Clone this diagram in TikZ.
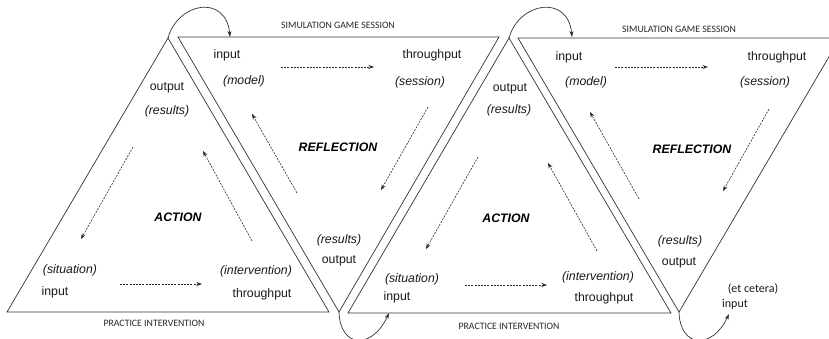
\documentclass[tikz,border=0pt]{standalone}
\usepackage{fontspec}
\setmainfont{Liberation Sans}
\newfontfamily\calfont{Carlito}
\usetikzlibrary{arrows.meta}
\begin{document}
\begin{tikzpicture}[x=1pt,y=-1pt,
  tri/.style={draw=black!80, line width=0.7pt, line join=miter},
  lbl/.style={inner sep=0pt, text=black!90, font=\fontsize{12.3}{14}\selectfont},
  ital/.style={inner sep=0pt, text=black!90, font=\fontsize{12.3}{14}\selectfont\itshape},
  heading/.style={inner sep=0pt, text=black, font=\fontsize{12.3}{14}\selectfont\bfseries\itshape},
  smallcap/.style={inner sep=0pt, text=black!85, font=\calfont\fontsize{9.8}{12}\selectfont},
  callbl/.style={inner sep=0pt, text=black!90, font=\calfont\fontsize{12}{14}\selectfont},
  flowarrow/.style={draw=black!85, line width=0.6pt, dash pattern=on 2pt off 1.2pt, -{Stealth[length=5.5pt,width=4pt]}},
  hop/.style={draw=black!80, line width=0.7pt, -{Stealth[length=6pt,width=4pt]}}
]
\useasboundingbox (0,0) rectangle (829,339);
\clip (0,0) rectangle (829,339);

% ---------- triangle corners ----------
\coordinate (a1) at (168,38);  \coordinate (b1l) at (7,312);   \coordinate (b1r) at (329,312);
\coordinate (t2l) at (178,37); \coordinate (t2r) at (499,37);  \coordinate (v2) at (339,312);
\coordinate (a3) at (509,38);  \coordinate (b3l) at (348,313); \coordinate (b3r) at (671,313);
\coordinate (t4l) at (518,38); \coordinate (t4r) at (840,38);  \coordinate (v4) at (679,312);

\draw[tri] (a1) -- (b1r) -- (b1l) -- cycle;
\draw[tri] (t2l) -- (t2r) -- (v2) -- cycle;
\draw[tri] (a3) -- (b3r) -- (b3l) -- cycle;
\draw[tri] (t4l) -- (t4r) -- (v4) -- cycle;

% ---------- linking curves ----------
\coordinate (e1) at (230,37);
\coordinate (e2) at (389,313);
\coordinate (e3) at (572,37);
\coordinate (e4) at (729,314);
\draw[hop] (a1) .. controls (178,2) and (226,-6) .. (e1);
\draw[hop] (v2) .. controls (340,348) and (372,350) .. (e2);
\draw[hop] (a3) .. controls (519,2) and (568,-6) .. (e3);
\draw[hop] (v4) .. controls (680,348) and (712,350) .. (e4);

% ---------- triangle 1 : ACTION ----------
\node[lbl]  (o1)  at (167,88)  {output};
\node[ital] (r1)  at (167,111) {(results)};
\node[heading] (act1) at (178,217) {ACTION};
\node[ital] (s1)  at (70,270)  {(situation)};
\node[lbl]  (i1)  at (55,292)  {input};
\node[ital] (iv1) at (256,271) {(intervention)};
\node[lbl]  (th1) at (262,294) {throughput};
\node[smallcap] (p1) at (154,323) {PRACTICE INTERVENTION};
\coordinate (f1a) at (133,147); \coordinate (f1b) at (81,239);
\coordinate (f1c) at (252,241); \coordinate (f1d) at (203,151);
\coordinate (f1e) at (120,284); \coordinate (f1f) at (202,284);
\draw[flowarrow] (f1a) -- (f1b);
\draw[flowarrow] (f1c) -- (f1d);
\draw[flowarrow] (f1e) -- (f1f);

% ---------- triangle 2 : REFLECTION ----------
\node[smallcap] (g2) at (338,25) {SIMULATION GAME SESSION};
\node[lbl]  (i2)  at (227,55)  {input};
\node[ital] (m2)  at (244,81)  {(model)};
\node[lbl]  (th2) at (432,55)  {throughput};
\node[ital] (se2) at (420,82)  {(session)};
\node[heading] (ref2) at (338,147) {REFLECTION};
\node[ital] (r2)  at (339,240) {(results)};
\node[lbl]  (o2)  at (339,261) {output};
\coordinate (f2a) at (281,67);  \coordinate (f2b) at (374,67);
\coordinate (f2c) at (428,107); \coordinate (f2d) at (381,190);
\coordinate (f2e) at (297,193); \coordinate (f2f) at (252,114);
\draw[flowarrow] (f2a) -- (f2b);
\draw[flowarrow] (f2c) -- (f2d);
\draw[flowarrow] (f2e) -- (f2f);

% ---------- triangle 3 : ACTION ----------
\node[lbl]  (o3)  at (510,89)  {output};
\node[ital] (r3)  at (509,110) {(results)};
\node[heading] (act3) at (506,218) {ACTION};
\node[ital] (s3)  at (412,279) {(situation)};
\node[lbl]  (i3)  at (397,297) {input};
\node[ital] (iv3) at (598,277) {(intervention)};
\node[lbl]  (th3) at (604,298) {throughput};
\node[smallcap] (p3) at (509,326) {PRACTICE INTERVENTION};
\coordinate (f3a) at (478,157); \coordinate (f3b) at (426,249);
\coordinate (f3c) at (597,251); \coordinate (f3d) at (548,163);
\coordinate (f3e) at (465,285); \coordinate (f3f) at (547,285);
\draw[flowarrow] (f3a) -- (f3b);
\draw[flowarrow] (f3c) -- (f3d);
\draw[flowarrow] (f3e) -- (f3f);

% ---------- triangle 4 : REFLECTION ----------
\node[smallcap] (g4) at (679,29) {SIMULATION GAME SESSION};
\node[lbl]  (i4)  at (569,57)  {input};
\node[ital] (m4)  at (586,82)  {(model)};
\node[lbl]  (th4) at (777,57)  {throughput};
\node[ital] (se4) at (765,82)  {(session)};
\node[heading] (ref4) at (692,149) {REFLECTION};
\node[ital] (r4)  at (680,241) {(results)};
\node[lbl]  (o4)  at (679,263) {output};
\node[callbl] (etc) at (753,289) {(et cetera)};
\node[callbl] (i5)  at (735,304) {input};
\coordinate (f4a) at (615,67);  \coordinate (f4b) at (708,67);
\coordinate (f4c) at (769,109); \coordinate (f4d) at (723,191);
\coordinate (f4e) at (639,199); \coordinate (f4f) at (590,112);
\draw[flowarrow] (f4a) -- (f4b);
\draw[flowarrow] (f4c) -- (f4d);
\draw[flowarrow] (f4e) -- (f4f);
\end{tikzpicture}
\end{document}
